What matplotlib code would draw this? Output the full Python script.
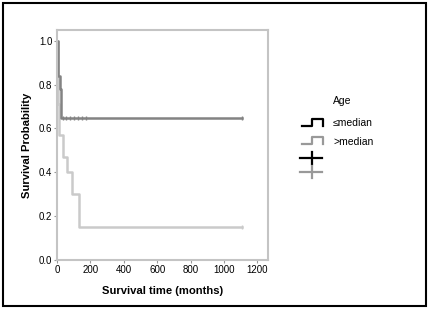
import matplotlib
matplotlib.use("Agg")
import matplotlib.pyplot as plt
from matplotlib.lines import Line2D
from matplotlib.patches import Rectangle

plt.rcParams['font.family'] = ['Liberation Sans', 'DejaVu Sans']

# Kaplan-Meier steps
low_t = [0, 5, 15, 25, 1110]
low_s = [1.0, 0.84, 0.78, 0.65, 0.65]
low_cens_t = [35, 55, 75, 100, 125, 150, 175, 1110]

high_t = [0, 5, 12, 38, 58, 88, 130, 1110]
high_s = [1.0, 0.71, 0.57, 0.47, 0.40, 0.30, 0.15, 0.15]
high_cens_t = [1110]

xticks = [0, 200, 400, 600, 800, 1000, 1200]
yticks = [0.0, 0.2, 0.4, 0.6, 0.8, 1.0]
labels = ['\u2264median', '>median']

dark = '#838383'
light = '#cacaca'

fig = plt.figure(figsize=(4.29, 3.09), dpi=100)
ax = fig.add_axes([0.133, 0.159, 0.492, 0.744])

ax.step(high_t, high_s, where='post', color=light, lw=1.8)
ax.step(low_t, low_s, where='post', color=dark, lw=1.8)
ax.plot(low_cens_t, [low_s[-1]] * len(low_cens_t), ls='none', marker='|',
        ms=2.5, mew=1, color=dark)
ax.plot(high_cens_t, [high_s[-1]] * len(high_cens_t), ls='none', marker='|',
        ms=2.5, mew=1, color=light)

ax.set_xlim(0, 1265)
ax.set_ylim(0, 1.05)
ax.set_xticks(xticks)
ax.set_yticks(yticks)
ax.set_xticklabels([str(v) for v in xticks])
ax.set_yticklabels([f'{v:.1f}' for v in yticks])
ax.tick_params(labelsize=7, length=2.5, width=0.8, color='#999999', pad=1)
for s in ax.spines.values():
    s.set_color('#c4c4c4')
    s.set_linewidth(1.5)

ax.set_xlabel('Survival time (months)', fontsize=8.1, fontweight='bold', labelpad=8)
ax.set_ylabel('Survival Probability', fontsize=8.1, fontweight='bold', labelpad=5)

# legend drawn by hand in figure pixels
W, H = 429.0, 309.0
def fl(xs, ys, c, lw=1.6):
    fig.add_artist(Line2D([x / W for x in xs], [1 - y / H for y in ys],
                          color=c, lw=lw, transform=fig.transFigure))

fig.text(342 / W, 1 - 101 / H, 'Age', fontsize=7.5, ha='center', va='center')
fl([302, 312, 312, 323, 323], [126, 126, 119, 119, 126], 'black')
fl([302, 312, 312, 323, 323], [144, 144, 137, 137, 144], '#999999')
fig.text(333 / W, 1 - 123 / H, labels[0], fontsize=7.5, va='center')
fig.text(333 / W, 1 - 142 / H, labels[1], fontsize=7.5, va='center')
fl([300, 322], [158, 158], 'black')
fl([312, 312], [152, 164], 'black')
fl([300, 322], [172, 172], '#999999')
fl([312, 312], [166, 178], '#999999')

fig.add_artist(Rectangle((3 / W, 3 / H), 423 / W, 303 / H, fill=False,
                         ec='black', lw=1.5, transform=fig.transFigure))

fig.savefig('out.png', dpi=100)
